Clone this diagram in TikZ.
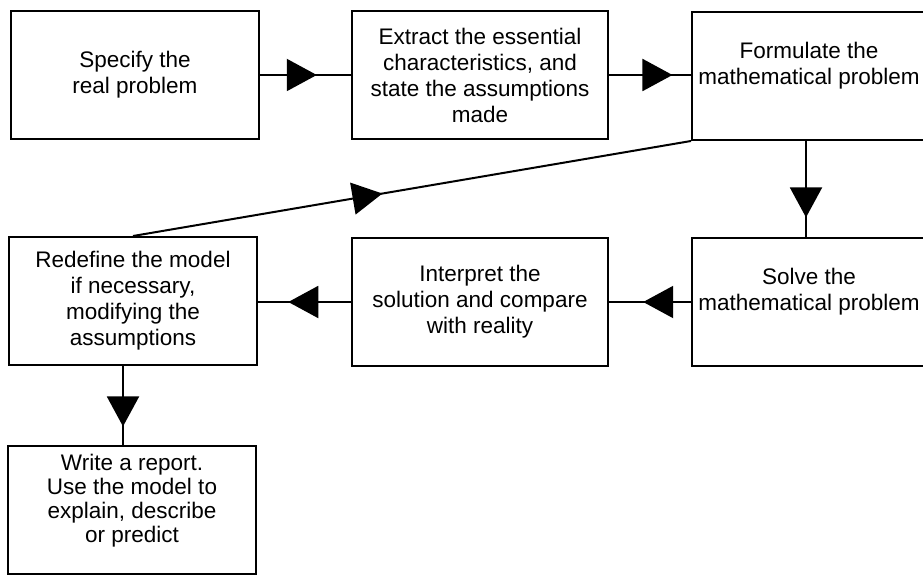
\documentclass[tikz,border=0pt]{standalone}
\usepackage{fontspec}
\setmainfont{Liberation Sans}
\usetikzlibrary{arrows.meta,decorations.markings}
\tikzset{
  box/.style={draw=black, line width=2pt, rectangle, minimum width=248pt, minimum height=128pt,
    align=center, inner sep=2pt, font=\fontsize{22.5}{26}\selectfont},
  wbox/.style={box, minimum width=256pt},
  rbox/.style={box, minimum width=234pt},
  conn/.style={line width=2pt, postaction={decorate},
    decoration={markings, mark=at position #1 with {\arrow{Triangle[length=30pt,width=32pt]}}}},
}
\begin{document}
\begin{tikzpicture}[x=1pt,y=-1pt]
\path[use as bounding box] (0,0) rectangle (923,575);
\clip (0,0) rectangle (923,575);
\node[box]  (spec)  at (135,75)  {Specify the\\real problem};
\node[wbox] (extr)  at (480,75)  {Extract the essential\\characteristics, and\\state the assumptions\\made};
\node[rbox] (form)  at (809,76)  {Formulate the\\mathematical problem\\\mbox{}};
\node[box]  (redef) at (133,301) {Redefine the model\\if necessary,\\modifying the\\assumptions};
\node[wbox] (interp) at (480,302) {Interpret the\\solution and compare\\with reality};
\node[rbox] (solve) at (809,302) {Solve the\\mathematical problem\\\mbox{}};
\node[box, font=\fontsize{22.5}{24}\selectfont] (write) at (132,510) {Write a report.\\Use the model to\\explain, describe\\or predict\\\mbox{}};
\draw[conn=0.624] (spec.east) -- (spec.east -| extr.west);
\draw[conn=0.774] (extr.east) -- (extr.east -| form.west);
\draw[conn=0.796] ([xshift=-3pt]form.south) -- ([xshift=-3pt]form.south |- solve.north);
\draw[conn=0.583] (solve.west) -- (solve.west -| interp.east);
\draw[conn=0.674] (interp.west) -- (interp.west -| redef.east);
\draw[conn=0.765] ([xshift=-10pt]redef.south) -- ([xshift=-10pt]redef.south |- write.north);
\draw[conn=0.447] (redef.north) -- (form.south west);
\end{tikzpicture}
\end{document}
